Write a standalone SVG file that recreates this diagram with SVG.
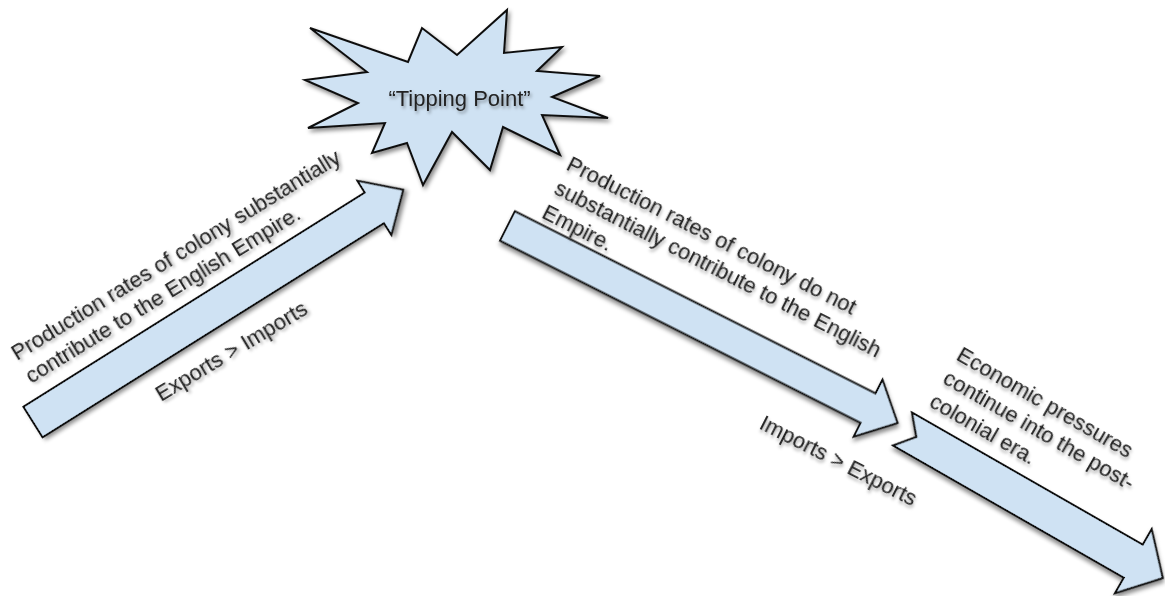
<svg xmlns="http://www.w3.org/2000/svg" width="1165" height="596" viewBox="0 0 1165 596">
<defs>
<filter id="sh" x="-20%" y="-20%" width="140%" height="140%">
<feDropShadow dx="2" dy="3" stdDeviation="2" flood-color="#000" flood-opacity="0.45"/>
</filter>
<filter id="tsh" x="-10%" y="-30%" width="120%" height="160%">
<feDropShadow dx="1.5" dy="2.5" stdDeviation="1.5" flood-color="#000" flood-opacity="0.35"/>
</filter>
<style>
.shape{fill:#cfe2f3;stroke:#111;stroke-width:2;stroke-linejoin:miter;filter:url(#sh)}
.lbl{font-family:"Liberation Sans",Arial,sans-serif;font-size:22px;fill:#222;filter:url(#tsh)}
</style>
</defs>
<rect width="1165" height="596" fill="#fff"/>

<g id="tipping-point">
<polygon class="shape" points="310,28 408,62 422,28 457,55 507,10 504,53 562,47 537,71 600,76 552,97 608,118 542,115 560,155 503,127 490,170 452,132 423,185 407,143 372,153 385,123 308,128 358,103 305,80 367,72"/>
<text class="lbl" x="459.5" y="106" text-anchor="middle">“Tipping Point”</text>
</g>

<g id="connectors">
<g id="arrow-rise">
<polygon class="shape" transform="translate(33,422) rotate(-32.1)" points="0,-18 403,-18 403,-32 437,0 403,32 403,18 0,18"/>
<text class="lbl" transform="translate(17,361) rotate(-31.5)"><tspan x="0" y="0">Production rates of colony substantially</tspan><tspan x="0" y="27">contribute to the English Empire.</tspan></text>
<text class="lbl" transform="translate(161,402) rotate(-31)">Exports &gt; Imports</text>
</g>

<g id="arrow-fall">
<polygon class="shape" transform="translate(507.5,226) rotate(26.8)" points="0,-16.5 404,-16.5 404,-32 437,0 404,32 404,16.5 0,16.5"/>
<text class="lbl" transform="translate(565,169) rotate(27)"><tspan x="0" y="0">Production rates of colony do not</tspan><tspan x="0" y="27">substantially contribute to the English</tspan><tspan x="0" y="54">Empire.</tspan></text>
<text class="lbl" transform="translate(758,428) rotate(27)">Imports &gt; Exports</text>
</g>

<g id="arrow-post">
<polygon class="shape" transform="translate(902.5,429) rotate(29.8)" points="0,-19 266,-19 266,-37 300,0 266,37 266,19 0,19 16,0"/>
<text class="lbl" transform="translate(955,359) rotate(30)"><tspan x="0" y="0">Economic pressures</tspan><tspan x="0" y="27">continue into the post-</tspan><tspan x="0" y="54">colonial era.</tspan></text>
</g>
</g>
</svg>
